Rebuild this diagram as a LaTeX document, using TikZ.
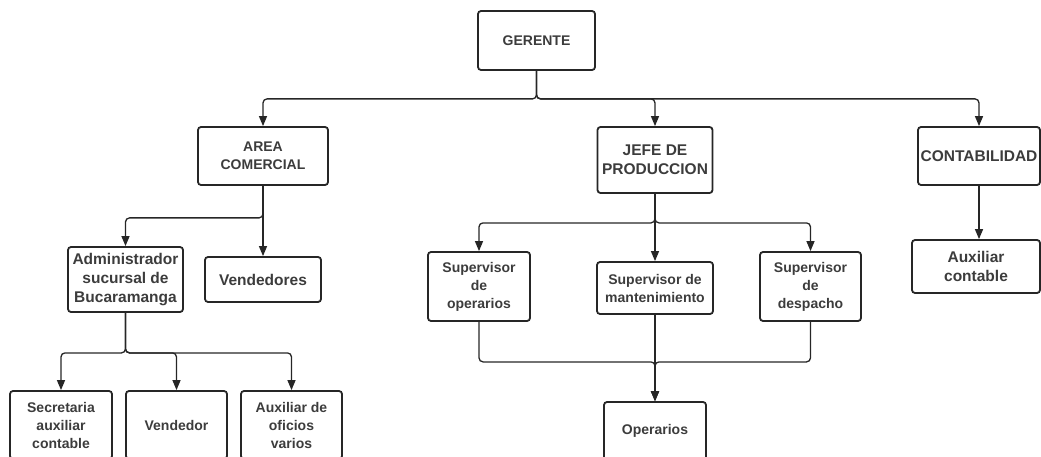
\documentclass[tikz,border=0pt]{standalone}
\usepackage{fontspec}
\setmainfont{Liberation Sans}
\usetikzlibrary{arrows.meta, positioning}
\definecolor{texto}{HTML}{3C3C3C}
\definecolor{linea}{HTML}{262626}

\begin{document}
\begin{tikzpicture}[
        x=1pt, y=-1pt,
        box/.style={draw=linea, line width=1.8pt, rounded corners=3pt, align=center, text=texto, inner sep=1pt, font=\bfseries\fontsize{14}{18}\selectfont},
        big/.style={font=\bfseries\fontsize{15.5}{19}\selectfont},
        arrow/.style={-{Triangle[length=10pt,width=8pt]}, line width=1.3pt, draw=linea, rounded corners=4pt}
    ]
        \useasboundingbox (0,0) rectangle (1041,457);

        \node[box, minimum width=117pt, minimum height=59pt] (gerente) at (536.5,40.5) {GERENTE};

        \node[box, minimum width=130pt, minimum height=58pt] (area) at (263,156) {AREA\\COMERCIAL};
        \node[box, big, minimum width=115pt, minimum height=66pt] (jefe) at (655,160) {JEFE DE\\PRODUCCION};
        \node[box, big, minimum width=122pt, minimum height=58pt] (conta) at (979,156) {CONTABILIDAD};

        % rama comercial
        \node[box, big, minimum width=115pt, minimum height=65pt] (admin) at (125.5,279.5) {Administrador\\sucursal de\\Bucaramanga};
        \node[box, big, minimum width=116pt, minimum height=45pt] (vendedores) at (263,279.5) {Vendedores};
        \node[box, minimum width=102pt, minimum height=68pt] (secretaria) at (61,425) {Secretaria\\auxiliar\\contable};
        \node[box, minimum width=101pt, minimum height=68pt] (vendedor) at (176.5,425) {Vendedor};
        \node[box, minimum width=101pt, minimum height=68pt] (auxoficios) at (291.5,425) {Auxiliar de\\oficios\\varios};

        % rama produccion
        \node[box, minimum width=102pt, minimum height=69pt] (supop) at (479,286.5) {Supervisor\\de\\operarios};
        \node[box, minimum width=116pt, minimum height=52pt] (supman) at (655,288) {Supervisor de\\mantenimiento};
        \node[box, minimum width=101pt, minimum height=69pt] (supdes) at (810.5,286.5) {Supervisor\\de\\despacho};
        \node[box, minimum width=102pt, minimum height=58pt] (operarios) at (655,431) {Operarios};

        \node[box, big, minimum width=128pt, minimum height=53pt] (auxcont) at (976,266.5) {Auxiliar\\contable};

        \draw[arrow] (gerente.south) -- ++(0,28) -| (area.north);
        \draw[arrow] (gerente.south) -- ++(0,28) -| (jefe.north);
        \draw[arrow] (gerente.south) -- ++(0,28) -| (conta.north);

        \draw[arrow] (area.south) -- (vendedores.north);
        \draw[arrow] (area.south) -- ++(0,32) -| (admin.north);
        \draw[arrow] (admin.south) -- ++(0,40) -| (secretaria.north);
        \draw[arrow] (admin.south) -- ++(0,40) -| (vendedor.north);
        \draw[arrow] (admin.south) -- ++(0,40) -| (auxoficios.north);

        \draw[arrow] (jefe.south) -- ++(0,29) -| (supop.north);
        \draw[arrow] (jefe.south) -- (supman.north);
        \draw[arrow] (jefe.south) -- ++(0,29) -| (supdes.north);
        \draw[arrow] (supop.south) -- ++(0,40) -| (operarios.north);
        \draw[arrow] (supman.south) -- (operarios.north);
        \draw[arrow] (supdes.south) -- ++(0,40) -| (operarios.north);

        \draw[arrow] (conta.south) -- (conta.south |- auxcont.north);
    \end{tikzpicture}
\end{document}
